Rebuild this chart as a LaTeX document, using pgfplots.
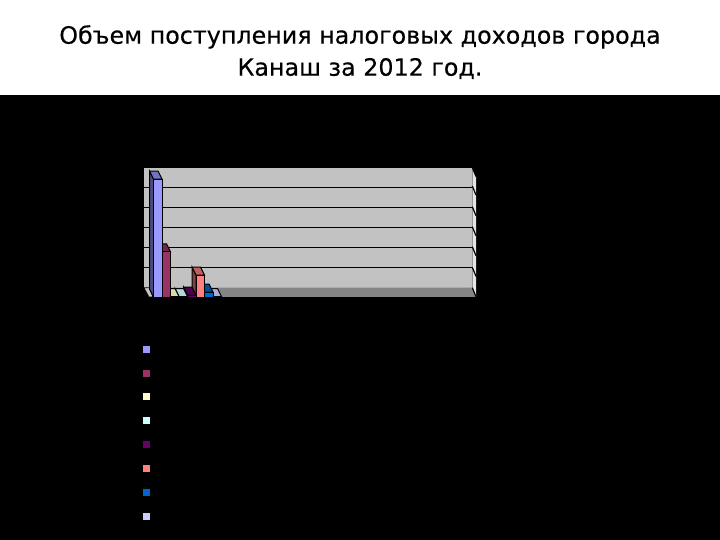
\documentclass[border=0pt]{standalone}
\usepackage{fontspec}
\setmainfont{DejaVu Sans}
\newfontfamily\titlefont[FakeBold=0.35]{DejaVu Sans}
\usepackage{pgfplots}
\pgfplotsset{compat=1.18}
\definecolor{ca}{HTML}{9999FF}
\definecolor{cb}{HTML}{993366}
\definecolor{cc}{HTML}{FFFFCC}
\definecolor{cd}{HTML}{CCFFFF}
\definecolor{ce}{HTML}{660066}
\definecolor{cf}{HTML}{FF8080}
\definecolor{cg}{HTML}{0066CC}
\definecolor{ch}{HTML}{CCCCFF}
\pgfplotsset{squareleg/.style={legend image code/.code={\fill[##1, draw=none] (0bp,-3.5bp) rectangle (7bp,3.5bp);}}}
% depth of the 3d bars in axis units: 4px left, 8px up; #4 = shade of the top face
\newcommand{\barthreed}[4]{%
  \pgfmathsetmacro\xl{#1-0.5}%
  \pgfmathsetmacro\xr{#1+0.5}%
  \pgfmathsetmacro\xlb{#1-0.97}%
  \pgfmathsetmacro\xrb{#1+0.03}%
  \pgfmathsetmacro\vb{#2+0.4}%
  \addplot[fill=#3!50!black, draw=black, line width=1bp, forget plot] coordinates {(\xl,0) (\xlb,0.4) (\xlb,\vb) (\xl,#2)} --cycle;
  \addplot[fill=#3!#4!black, draw=black, line width=1bp, forget plot] coordinates {(\xl,#2) (\xlb,\vb) (\xrb,\vb) (\xr,#2)} --cycle;
  \addplot[ybar, bar width=1, bar shift=0pt, fill=#3, draw=black, line width=1bp, squareleg] coordinates {(#1,#2)};
  \addlegendentry{}
}
\begin{document}
\begin{tikzpicture}
\begin{scope}[x=1bp,y=-1bp]
  \fill[white] (0,0) rectangle (720,95);
  \fill[black] (0,95) rectangle (720,540);
  \node[font=\titlefont\fontsize{23.8bp}{32bp}\selectfont, align=center, anchor=north, inner sep=0pt] at (360,25)
    {Объем поступления налоговых доходов города\\Канаш за 2012 год.};
\end{scope}

% back wall with the grid
\begin{axis}[scale only axis, width=328.3bp, height=120.2bp,
  at={(144bp,-287.7bp)}, anchor=south west,
  xmin=0, xmax=1, ymin=0, ymax=6, xtick=\empty, ytick={1,2,3,4,5},
  yticklabel=\empty, ymajorgrids, grid style={black, line width=1.6bp},
  axis line style={draw=none}, major tick length=0pt,
  axis background/.style={fill=black!24}]
\addplot[draw=none, forget plot] coordinates {(0,0) (1,6)};
\end{axis}

% floor and right-hand wall
\begin{scope}[x=1bp,y=-1bp]
  \fill[black!48] (144,287.7) -- (472.3,287.7) -- (476,297) -- (149,297) -- cycle;
  \fill[black!22, draw=black, line width=0.6bp] (144,287.7) -- (149,297) -- (153,297) -- (149,287.7) -- cycle;
  \fill[black!10] (472.3,167.5) -- (476,177) -- (476,297) -- (472.3,287.7) -- cycle;
  \foreach \y in {167.5,186,206.7,226.7,246.7,267.3,287.7}
    \draw[black, line width=1.2bp] (472.3,\y) -- (476,\y+9);
  \draw[black, line width=0.9bp] (149,297) -- (476,297);
\end{scope}

% front plane: one unit of x is one bar, one unit of y is a grid step
% bars go right to left so that each one covers the side of its right neighbour
\begin{axis}[scale only axis, width=327.5bp, height=120bp,
  at={(149bp,-297bp)}, anchor=south west, clip=false,
  xmin=-0.03, xmax=38.5, ymin=0, ymax=6, xtick=\empty, ytick=\empty,
  axis line style={draw=none}, reverse legend,
  legend style={at={(-0.0198,-0.335)}, anchor=north west, draw=none, fill=none,
    inner sep=0pt, outer sep=0pt, row sep=0pt,
    nodes={inner sep=0pt, minimum height=23.9bp, text width=1bp}}]
\barthreed{8}{0.02}{ch}{85}
\barthreed{7}{0.25}{cg}{75}
\barthreed{6}{1.1}{cf}{75}
\barthreed{5}{0.1}{ce}{75}
\barthreed{4}{0.02}{cd}{85}
\barthreed{3}{0.02}{cc}{85}
\barthreed{2}{2.26}{cb}{75}
\barthreed{1}{5.9}{ca}{75}
\end{axis}

\path[use as bounding box] (0bp,0bp) rectangle (720bp,-540bp);
\end{tikzpicture}
\end{document}
